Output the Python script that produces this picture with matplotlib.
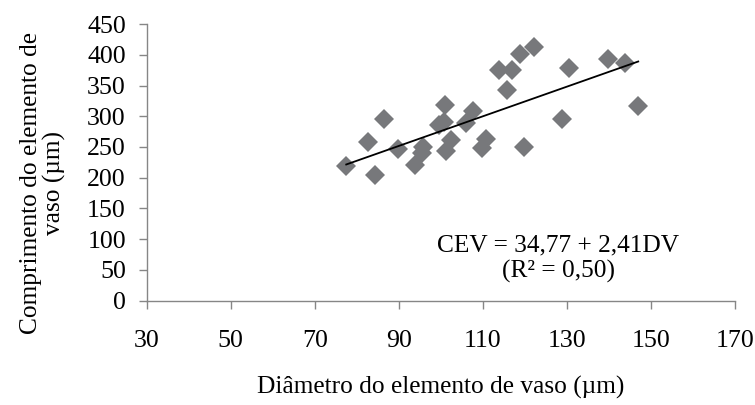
import numpy as np
import matplotlib.pyplot as plt

# Diâmetro (DV) e comprimento (CEV) dos elementos de vaso
diametro = [77.5, 84.3, 82.7, 86.4, 89.8, 93.9, 95.8, 95.5, 101.0, 99.6,
            100.7, 102.4, 101.3, 107.6, 106.1, 109.7, 110.8, 113.9, 116.9, 115.8,
            118.8, 119.8, 122.1, 130.5, 128.9, 139.7, 143.8, 147.0]
comprimento = [219, 204, 258, 295, 246, 221, 250, 240, 318, 285,
               291, 262, 243, 309, 289, 248, 263, 376, 376, 343,
               401, 250, 413, 378, 295, 393, 387, 317]

# Coeficientes da regressão: CEV = a + b*DV
intercepto = 34.77
inclinacao = 2.41

x_ticks = [30, 50, 70, 90, 110, 130, 150, 170]
y_ticks = [0, 50, 100, 150, 200, 250, 300, 350, 400, 450]

plt.rcParams['font.family'] = ['Liberation Serif', 'DejaVu Serif']
fs = 18.3

fig = plt.figure(figsize=(7.55, 4.05), dpi=100)
ax = fig.add_axes([0.1943, 0.2575, 0.779, 0.6832])

cinza = '#77787b'
ax.plot(diametro, comprimento, linestyle='none', marker='D', markersize=10,
        color=cinza, markeredgewidth=0, zorder=2)

xs = np.array([min(diametro), max(diametro)])
ax.plot(xs, intercepto + inclinacao * xs, color='black', lw=1.3, zorder=3)

ax.set_xlim(30, 170)
ax.set_ylim(0, 450)
ax.set_xticks(x_ticks)
ax.set_yticks(y_ticks)

for s in ['top', 'right']:
    ax.spines[s].set_visible(False)
for s in ['left', 'bottom']:
    ax.spines[s].set_color('#868686')
    ax.spines[s].set_linewidth(1.0)

ax.tick_params(axis='both', direction='out', length=6, width=1.0,
               color='#868686', labelsize=18.6, labelcolor='black')
ax.tick_params(axis='x', pad=15)
ax.tick_params(axis='y', pad=9)

ax.set_xlabel('Diâmetro do elemento de vaso (µm)', fontsize=fs, labelpad=17)
fig.text(0.057, 0.548, 'Comprimento do elemento de\nvaso (µm)', fontsize=fs,
         rotation=90, ha='center', va='center', linespacing=1.0)

ax.text(0.70, 0.151, 'CEV = 34,77 + 2,41DV\n(R² = 0,50)', transform=ax.transAxes,
        ha='center', va='center', fontsize=fs, linespacing=1.2)

fig.savefig('out.png', dpi=100)
